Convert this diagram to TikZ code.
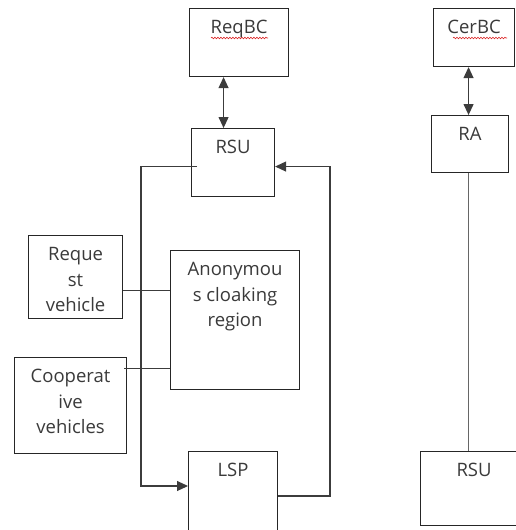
\documentclass[tikz,border=0pt]{standalone}
\usepackage{fontspec}
\setmainfont{Open Sans}
\usepackage{tikz}
\usetikzlibrary{arrows.meta, positioning, calc, decorations.pathmorphing}
\definecolor{BoxGray}{HTML}{262626}
\definecolor{LineGray}{HTML}{3C3C3C}
\definecolor{TextGray}{HTML}{3A3A3A}
\definecolor{SpellRed}{RGB}{220, 38, 38}

% top-aligned text inside a box of fixed size
\newcommand{\blocktext}[3]{\parbox[t][#2][t]{#1}{\centering\rule{0pt}{25pt}#3}}

\tikzset{
  block/.style={draw=BoxGray, line width=1.1pt, inner sep=0pt, anchor=north west,
    text=TextGray, font=\fontsize{18.5pt}{25.5pt}\selectfont},
  link/.style={color=LineGray, line width=1.1pt},
  tip/.style={>={Triangle[length=11pt, width=10pt]}},
  spell/.style={color=SpellRed, line width=0.6pt, decorate,
    decoration={snake, amplitude=0.8pt, segment length=3pt}}
}

\begin{document}
\begin{tikzpicture}[x=1pt, y=-1pt]
    \useasboundingbox (0,0) rectangle (515,530);

    % left column
    \node[block] (reqbc) at (189,8)   {\blocktext{99pt}{68pt}{ReqBC}};
    \node[block] (rsu)   at (191,128) {\blocktext{83pt}{68pt}{RSU}};
    \node[block] (acr)   at (170,250) {\blocktext{129pt}{139pt}{Anonymou\\s cloaking\\region}};
    \node[block] (req)   at (28,235)  {\blocktext{94pt}{83pt}{Reque\\st\\vehicle}};
    \node[block] (coop)  at (14,357)  {\blocktext{112pt}{96pt}{Cooperat\\ive\\vehicles}};
    \node[block] (lsp)   at (188,451) {\blocktext{89pt}{90pt}{LSP}};

    % right column
    \node[block] (cerbc) at (433,8)   {\blocktext{81pt}{58pt}{CerBC}};
    \node[block] (ra)    at (431,115) {\blocktext{77pt}{57pt}{RA}};
    \node[block] (rsub)  at (420,451) {\blocktext{107pt}{74pt}{RSU}};

    \coordinate (lft) at (141,0);
    \coordinate (rgt) at (330,0);

    % spell check marks
    \draw[spell] ([shift={(22,30)}]reqbc.north west) -- ++(57,0);
    \draw[spell] ([shift={(20,30)}]cerbc.north west) -- ++(54,0);

    \draw[link, tip, <->] ([xshift=-9.5pt]rsu.north) -- ([xshift=-9.5pt]rsu.north |- reqbc.south);
    \draw[link, tip, <->] ([xshift=-1.5pt]ra.north) -- ([xshift=-1.5pt]ra.north |- cerbc.south);
    \draw[link, color=black!60] ([xshift=-1.5pt]ra.south) -- ([xshift=-1.5pt]ra.south |- rsub.north);

    \draw[link, tip, ->] ([xshift=6pt, yshift=-4pt]rsu.west) -| ([yshift=-35pt]lsp.north west -| lft) -- ([yshift=-35pt]lsp.north west);
    \draw[link, tip, ->] ([yshift=-45pt]lsp.north east) -| ([yshift=-4pt]rsu.east -| rgt) -- ([yshift=-4pt]rsu.east);

    \draw[link] ([yshift=-13.5pt]req.east) -- ([yshift=-13.5pt]req.east -| acr.west);
    \draw[link] ([xshift=-3pt, yshift=37pt]coop.east) -- ([yshift=37pt]coop.east -| acr.west);
\end{tikzpicture}
\end{document}
